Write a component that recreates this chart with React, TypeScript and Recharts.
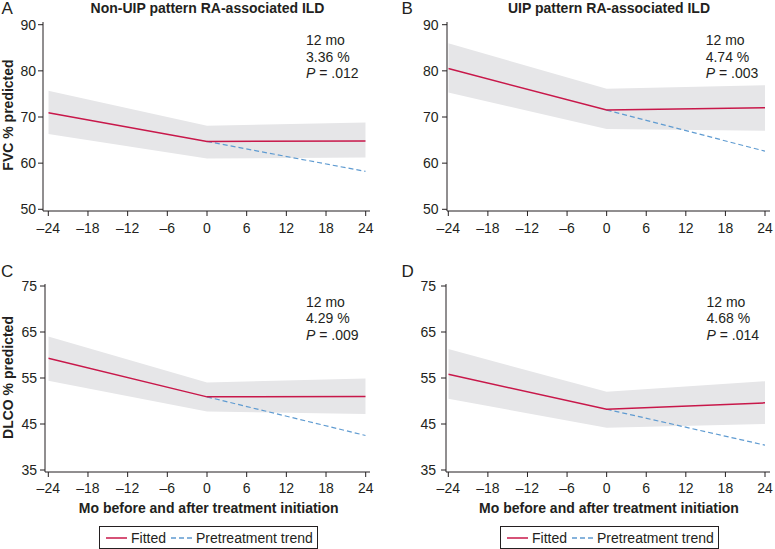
import { Area, ComposedChart, Legend, Line, XAxis, YAxis } from "recharts";

const months = [-24, 0, 24];
const monthTicks = [-24, -18, -12, -6, 0, 6, 12, 18, 24];
const fvcTicks = [50, 60, 70, 80, 90];
const dlcoTicks = [35, 45, 55, 65, 75];

// A: FVC, non-UIP pattern
const fvcNonUipFitted = [70.9, 64.7, 64.8];
const fvcNonUipTrend = [null, 64.7, 58.2];
const fvcNonUipLower = [66.3, 61.0, 61.2];
const fvcNonUipUpper = [75.7, 68.1, 68.8];

// B: FVC, UIP pattern
const fvcUipFitted = [80.5, 71.5, 72.0];
const fvcUipTrend = [null, 71.5, 62.6];
const fvcUipLower = [75.3, 67.4, 67.0];
const fvcUipUpper = [86.0, 76.1, 76.9];

// C: DLCO, non-UIP pattern
const dlcoNonUipFitted = [59.3, 50.9, 51.0];
const dlcoNonUipTrend = [null, 50.9, 42.5];
const dlcoNonUipLower = [54.4, 47.7, 47.2];
const dlcoNonUipUpper = [64.0, 54.0, 54.9];

// D: DLCO, UIP pattern
const dlcoUipFitted = [55.8, 48.2, 49.6];
const dlcoUipTrend = [null, 48.2, 40.4];
const dlcoUipLower = [50.5, 44.2, 45.0];
const dlcoUipUpper = [61.3, 52.0, 54.3];

const legendNames = ["Fitted", "Pretreatment trend"];

const INK = "#231f20";
const FITTED = "#c8184a";
const TREND = "#5f9bd1";
const BAND = "#e6e6e8";
const FONT = '"Liberation Sans", Arial, Helvetica, sans-serif';

type Row = { month: number; fitted: number; trend: number | null; lower: number; upper: number };

function buildRows(fitted: number[], trend: (number | null)[], lower: number[], upper: number[]): Row[] {
  return months.map((month, i) => ({
    month,
    fitted: fitted[i],
    trend: trend[i],
    lower: lower[i],
    upper: upper[i],
  }));
}

const dash = (v: number) => (v < 0 ? `\u2013${Math.abs(v)}` : `${v}`);

function LegendBox({ payload }: any) {
  const items = (payload || [])
    .filter((e: any) => legendNames.includes(e.value))
    .sort((a: any, b: any) => legendNames.indexOf(a.value) - legendNames.indexOf(b.value));
  return (
    <div
      style={{
        width: 219,
        height: 23,
        boxSizing: "border-box",
        border: `1px solid ${INK}`,
        display: "flex",
        alignItems: "center",
        paddingLeft: 6,
        fontFamily: FONT,
        fontSize: 14,
        color: INK,
        whiteSpace: "nowrap",
      }}
    >
      {items.map((entry: any) => {
        const dashed = entry.value === "Pretreatment trend";
        return (
          <span key={entry.value} style={{ display: "flex", alignItems: "center" }}>
            <svg width={21} height={4} style={{ marginRight: 4 }}>
              <line
                x1={0}
                x2={21}
                y1={2}
                y2={2}
                stroke={entry.color}
                strokeWidth={1.5}
                strokeDasharray={dashed ? "5 3" : undefined}
              />
            </svg>
            <span style={{ marginRight: 5 }}>{entry.value}</span>
          </span>
        );
      })}
    </div>
  );
}

type PanelProps = {
  rows: Row[];
  yTicks: number[];
  left: number;
  top: number;
  width: number;
  height: number;
  marginTop: number;
  marginRight: number;
  marginBottom: number;
  yAxisWidth: number;
  xPad: { left: number; right: number };
  yPad: { top: number; bottom: number };
  yTickMargin: number;
  xTickMargin: number;
  legendLeft?: number;
};

function Panel(p: PanelProps) {
  return (
    <div style={{ position: "absolute", left: p.left, top: p.top }}>
      <ComposedChart
        width={p.width}
        height={p.height}
        data={p.rows}
        margin={{ top: p.marginTop, right: p.marginRight, bottom: p.marginBottom, left: 0 }}
      >
        <XAxis
          dataKey="month"
          type="number"
          domain={[-24, 24]}
          ticks={monthTicks}
          interval={0}
          tickFormatter={dash}
          padding={p.xPad}
          height={30}
          stroke={INK}
          tickSize={5}
          tickMargin={p.xTickMargin}
          tick={{ fill: INK, fontSize: 14, fontFamily: FONT }}
          allowDataOverflow
        />
        <YAxis
          type="number"
          domain={[p.yTicks[0], p.yTicks[p.yTicks.length - 1]]}
          ticks={p.yTicks}
          interval={0}
          padding={p.yPad}
          width={p.yAxisWidth}
          stroke={INK}
          tickSize={5}
          tickMargin={p.yTickMargin}
          tick={{ fill: INK, fontSize: 14, fontFamily: FONT }}
          allowDataOverflow
        />
        <Area
          dataKey={(d: Row) => [d.lower, d.upper]}
          type="linear"
          stroke="none"
          fill={BAND}
          fillOpacity={1}
          legendType="none"
          isAnimationActive={false}
          activeDot={false}
        />
        <Line
          dataKey="trend"
          name="Pretreatment trend"
          type="linear"
          stroke={TREND}
          strokeWidth={1.2}
          strokeDasharray="5 3"
          dot={false}
          activeDot={false}
          isAnimationActive={false}
        />
        <Line
          dataKey="fitted"
          name="Fitted"
          type="linear"
          stroke={FITTED}
          strokeWidth={1.5}
          dot={false}
          activeDot={false}
          isAnimationActive={false}
        />
        {p.legendLeft !== undefined && (
          <Legend
            layout="vertical"
            align="center"
            verticalAlign="middle"
            content={LegendBox}
            wrapperStyle={{ left: p.legendLeft, top: 256, width: 219, height: 23 }}
          />
        )}
      </ComposedChart>
    </div>
  );
}

function Overlay() {
  const bold = { fontFamily: FONT, fontSize: 14, fontWeight: 700, fill: INK } as const;
  const plain = { fontFamily: FONT, fontSize: 14, fill: INK } as const;
  const letter = { fontFamily: FONT, fontSize: 17, fill: INK } as const;
  const note = (x: number, y: number, pct: string, pv: string) => (
    <g style={plain}>
      <text x={x} y={y}>12 mo</text>
      <text x={x} y={y + 16.5}>{pct}</text>
      <text x={x} y={y + 33}>
        <tspan fontStyle="italic">P</tspan> = {pv}
      </text>
    </g>
  );
  return (
    <svg
      width={775}
      height={549}
      style={{ position: "absolute", left: 0, top: 0, pointerEvents: "none" }}
    >
      <text x={1.5} y={13.5} style={letter}>A</text>
      <text x={401.5} y={13.5} style={letter}>B</text>
      <text x={1} y={277} style={letter}>C</text>
      <text x={401.5} y={277} style={letter}>D</text>

      <text x={207.5} y={12.7} textAnchor="middle" style={bold}>Non-UIP pattern RA-associated ILD</text>
      <text x={609} y={12.7} textAnchor="middle" style={bold}>UIP pattern RA-associated ILD</text>

      <text transform="translate(12.7,115) rotate(-90)" textAnchor="middle" style={bold}>FVC % predicted</text>
      <text transform="translate(12.7,377.5) rotate(-90)" textAnchor="middle" style={bold}>DLCO % predicted</text>

      <text x={208.7} y={512.7} textAnchor="middle" style={bold}>Mo before and after treatment initiation</text>
      <text x={609} y={512.7} textAnchor="middle" style={bold}>Mo before and after treatment initiation</text>

      {note(306, 45, "3.36 %", ".012")}
      {note(705.7, 45, "4.74 %", ".003")}
      {note(306, 306.7, "4.29 %", ".009")}
      {note(706.5, 306.7, "4.68 %", ".014")}
    </svg>
  );
}

export default function App() {
  return (
    <div
      style={{
        position: "absolute",
        left: 0,
        top: 0,
        width: 775,
        height: 549,
        background: "#fff",
        overflow: "hidden",
        fontFamily: FONT,
      }}
    >
      <Panel
        rows={buildRows(fvcNonUipFitted, fvcNonUipTrend, fvcNonUipLower, fvcNonUipUpper)}
        yTicks={fvcTicks}
        left={0}
        top={0}
        width={385}
        height={270}
        marginTop={22}
        marginRight={15}
        marginBottom={29}
        yAxisWidth={43}
        xPad={{ left: 5.3, right: 4.3 }}
        yPad={{ top: 2.7, bottom: 1.7 }}
        yTickMargin={2}
        xTickMargin={7.5}
      />
      <Panel
        rows={buildRows(fvcUipFitted, fvcUipTrend, fvcUipLower, fvcUipUpper)}
        yTicks={fvcTicks}
        left={385}
        top={0}
        width={390}
        height={270}
        marginTop={22}
        marginRight={5}
        marginBottom={29}
        yAxisWidth={62}
        xPad={{ left: 1.3, right: 5 }}
        yPad={{ top: 2.7, bottom: 1.7 }}
        yTickMargin={3.5}
        xTickMargin={7.5}
      />
      <Panel
        rows={buildRows(dlcoNonUipFitted, dlcoNonUipTrend, dlcoNonUipLower, dlcoNonUipUpper)}
        yTicks={dlcoTicks}
        left={0}
        top={270}
        width={385}
        height={279}
        marginTop={14}
        marginRight={15}
        marginBottom={47}
        yAxisWidth={45}
        xPad={{ left: 3.3, right: 4.3 }}
        yPad={{ top: 2, bottom: 2 }}
        yTickMargin={3}
        xTickMargin={6}
        legendLeft={99}
      />
      <Panel
        rows={buildRows(dlcoUipFitted, dlcoUipTrend, dlcoUipLower, dlcoUipUpper)}
        yTicks={dlcoTicks}
        left={385}
        top={270}
        width={390}
        height={279}
        marginTop={14}
        marginRight={5}
        marginBottom={47}
        yAxisWidth={61}
        xPad={{ left: 2.3, right: 5 }}
        yPad={{ top: 2, bottom: 2 }}
        yTickMargin={5}
        xTickMargin={6}
        legendLeft={115}
      />
      <Overlay />
    </div>
  );
}
